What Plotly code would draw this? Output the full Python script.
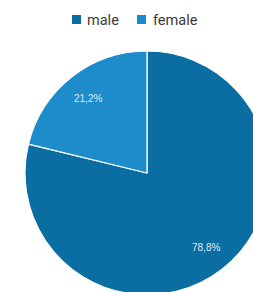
import math
import plotly.graph_objects as go

labels = ["male", "female"]
values = [78.8, 21.2]
colors = ["#0b6ea3", "#1d8ccb"]

W, H = 270, 295
ML, MR, MT, MB = 25, 1, 51, 0
PW, PH = W - ML - MR, H - MT - MB


def px_x(x):
    return (x - ML) / PW


def px_y(y):
    return 1 - (y - MT) / PH


fig = go.Figure(go.Pie(
    labels=labels,
    values=values,
    sort=False,
    direction="clockwise",
    rotation=0,
    marker=dict(colors=colors, line=dict(color="white", width=1.2)),
    textinfo="none",
    hoverinfo="label+percent",
    showlegend=False,
))

# percentage labels placed along each slice's mid-angle
total = sum(values)
start = 0.0
annotations = []
for lab, v in zip(labels, values):
    frac = v / total
    mid = (start + frac / 2) * 2 * math.pi
    start += frac
    rr = 0.5 * 0.78
    annotations.append(dict(
        x=0.5 + rr * math.sin(mid), y=0.5 + rr * math.cos(mid),
        xref="paper", yref="paper", showarrow=False,
        text=f"{frac * 100:.1f}%".replace(".", ","),
        font=dict(color="#d8ecf7", size=10, family="Arial, Liberation Sans, sans-serif"),
        xanchor="center", yanchor="middle",
    ))

# custom legend: squares + text
shapes = []
leg_sq_x = [72, 137]
leg_tx_x = [85, 151]
for lab, c, sx, tx in zip(labels, colors, leg_sq_x, leg_tx_x):
    shapes.append(dict(type="rect", xref="paper", yref="paper",
                       x0=px_x(sx), x1=px_x(sx + 9), y0=px_y(15), y1=px_y(24),
                       fillcolor=c, line=dict(width=0)))
    annotations.append(dict(x=px_x(tx), y=px_y(20.5), xref="paper", yref="paper",
                            showarrow=False, text=lab, xanchor="left", yanchor="middle",
                            font=dict(family="Roboto, sans-serif", size=14.5, color="#3a3a3a")))

fig.update_layout(
    width=W,
    height=H,
    margin=dict(l=ML, r=MR, t=MT, b=MB),
    paper_bgcolor="white",
    annotations=annotations,
    shapes=shapes,
)

post = ("document.body.style.margin='0';"
        "document.body.style.overflow='hidden';"
        "document.documentElement.style.overflow='hidden';")
fig.write_html("out.html", post_script=post, config={"displayModeBar": False})
